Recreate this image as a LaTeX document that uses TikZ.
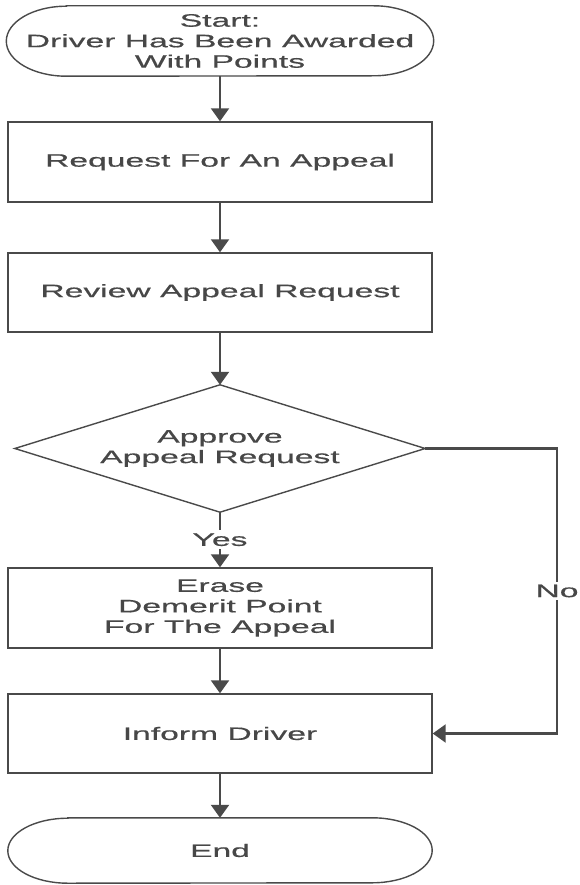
\documentclass[tikz,border=0pt]{standalone}
\usepackage{fontspec}
\newfontfamily\widesans[FakeStretch=1.87,FakeBold=0.6]{Liberation Sans}
\usetikzlibrary{arrows.meta,calc}
\definecolor{ln}{HTML}{4A4A4A}
\definecolor{tx}{HTML}{474747}
\begin{document}
\begin{tikzpicture}[x=1pt,y=1pt,
  txt/.style={font=\widesans\fontsize{18}{20.5}\selectfont, text=tx, align=center},
  boxnode/.style={txt, draw=ln, line width=1.4pt, rectangle, minimum width=424pt, inner sep=0pt},
  ghost/.style={txt, rectangle, inner sep=0pt},
  outline/.style={draw=ln, line width=1.4pt},
  conn/.style={draw=ln, line width=2.2pt, -{Triangle[length=13pt,width=18pt]}},
  lbl/.style={txt, fill=white, inner sep=3pt}]
\useasboundingbox (0,0) rectangle (579,-885);
% start terminal
\node[ghost, minimum width=427pt, minimum height=70pt] (start) at (220,-41) {Start:\\Driver Has Been Awarded\\With Points};
\draw[outline] ($(start.north west)+(60,0)$) -- ($(start.north east)+(-60,0)$)
  arc[start angle=90,end angle=-90,x radius=60pt,y radius=35pt]
  -- ($(start.south west)+(60,0)$)
  arc[start angle=270,end angle=90,x radius=60pt,y radius=35pt] -- cycle;
% process boxes
\node[boxnode, minimum height=80pt] (req) at (220,-162) {Request For An Appeal};
\node[boxnode, minimum height=79pt] (rev) at (220,-292.5) {Review Appeal Request};
% decision
\node[ghost, minimum width=410pt, minimum height=127pt] (dec) at (220,-448.5) {Approve\\Appeal Request};
\draw[outline] (dec.north) -- (dec.east) -- (dec.south) -- (dec.west) -- cycle;
\node[boxnode, minimum height=80pt] (ers) at (220,-608) {Erase\\Demerit Point\\For The Appeal};
\node[boxnode, minimum height=79pt] (inf) at (220,-733.5) {Inform Driver};
% end terminal
\node[ghost, minimum width=424pt, minimum height=65pt] (end) at (220,-850.5) {End};
\draw[outline] ($(end.north west)+(60,0)$) -- ($(end.north east)+(-60,0)$)
  arc[start angle=90,end angle=-90,x radius=60pt,y radius=32.5pt]
  -- ($(end.south west)+(60,0)$)
  arc[start angle=270,end angle=90,x radius=60pt,y radius=32.5pt] -- cycle;
% connectors
\coordinate (nocorner) at (557,-448.5);
\draw[conn] (start) -- (req);
\draw[conn] (req) -- (rev);
\draw[conn] (rev) -- (dec.north);
\draw[conn] (dec.south) -- node[lbl] {Yes} (ers.north);
\draw[conn] (dec.east) -- (nocorner) |- node[lbl, pos=0.25] {No} (inf.east);
\draw[conn] (ers) -- (inf);
\draw[conn] (inf) -- (end);
\end{tikzpicture}
\end{document}
